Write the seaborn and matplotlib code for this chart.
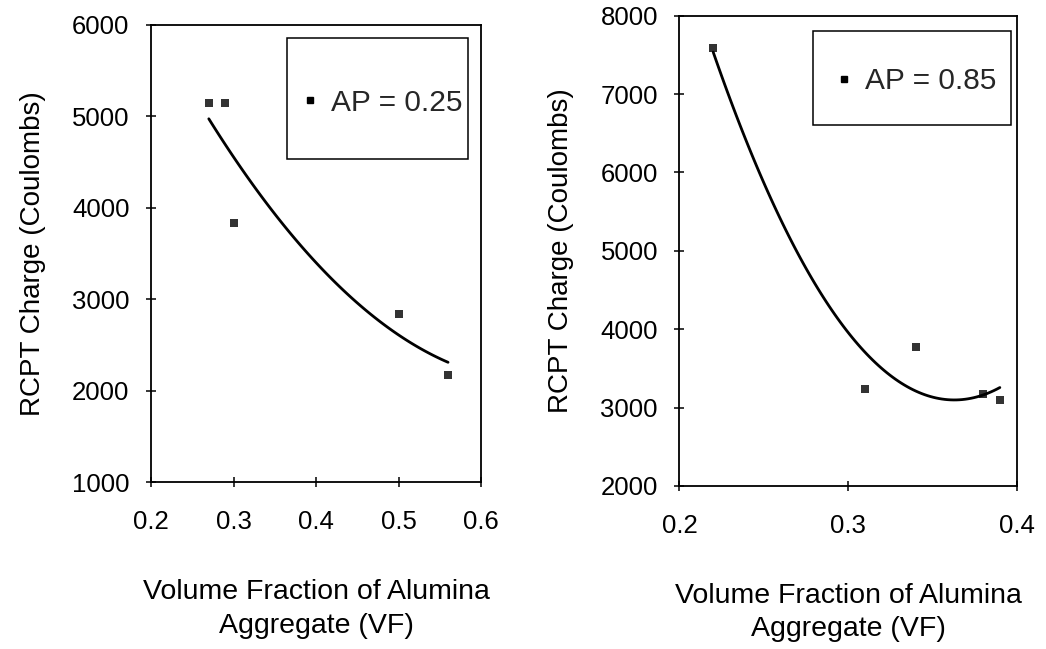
import numpy as np
import pandas as pd
import matplotlib
matplotlib.use("Agg")
import matplotlib.pyplot as plt
from matplotlib.lines import Line2D
from matplotlib.patches import Rectangle
import seaborn as sns

# RCPT charge vs. volume fraction of alumina aggregate
vf_025 = [0.27, 0.29, 0.30, 0.50, 0.56]
charge_025 = [5150, 5150, 3830, 2840, 2170]

vf_085 = [0.22, 0.31, 0.34, 0.38, 0.39]
charge_085 = [7590, 3240, 3770, 3170, 3100]

x_ticks_left = [0.2, 0.3, 0.4, 0.5, 0.6]
y_ticks_left = [1000, 2000, 3000, 4000, 5000, 6000]
x_ticks_right = [0.2, 0.3, 0.4]
y_ticks_right = [2000, 3000, 4000, 5000, 6000, 7000, 8000]

sns.set_theme(style="white")
plt.rcParams["font.family"] = ["Liberation Sans", "DejaVu Sans"]

fig = plt.figure(figsize=(10.46, 6.49), dpi=100)
ax1 = fig.add_axes([0.1444, 0.2573, 0.3155, 0.7042])
ax2 = fig.add_axes([0.6496, 0.2512, 0.3224, 0.7247])

panels = [
    (ax1, vf_025, charge_025, x_ticks_left, y_ticks_left, "AP = 0.25",
     (0.411, 0.706, 0.550, 0.265), (0.700, 0.830)),
    (ax2, vf_085, charge_085, x_ticks_right, y_ticks_right, "AP = 0.85",
     (0.395, 0.768, 0.588, 0.200), (0.700, 0.860)),
]

for ax, xs, ys, xt, yt, label, box, center in panels:
    df = pd.DataFrame({"vf": xs, "charge": ys})
    sns.regplot(data=df, x="vf", y="charge", order=2, ci=None, ax=ax,
                marker="s", color="black", truncate=True,
                scatter_kws={"s": 30, "linewidths": 0},
                line_kws={"lw": 2.0})
    ax.set_xlim(xt[0], xt[-1])
    ax.set_ylim(yt[0], yt[-1])
    ax.set_xticks(xt)
    ax.set_xticklabels([f"{v:.1f}" for v in xt])
    ax.set_yticks(yt)
    ax.set_yticklabels([str(v) for v in yt])
    ax.tick_params(direction="inout", length=7, width=1.1, color="black",
                   labelsize=18.5, labelcolor="black", pad=12,
                   left=True, bottom=True)
    ax.tick_params(axis="x", pad=17)
    for sp in ax.spines.values():
        sp.set_color("black")
        sp.set_linewidth(1.3)
    ax.set_xlabel("Volume Fraction of Alumina\nAggregate (VF)", fontsize=20.5,
                  color="black", labelpad=32, linespacing=1.38)
    ax.set_ylabel("RCPT Charge (Coulombs)", fontsize=20, color="black",
                  labelpad=19)

    ax.add_patch(Rectangle(box[:2], box[2], box[3], transform=ax.transAxes,
                           fill=False, edgecolor="black", lw=1.1, zorder=5))
    handle = Line2D([], [], marker="s", color="black", linestyle="none",
                    markersize=5)
    ax.legend([handle], [label], loc="center", bbox_to_anchor=center,
              frameon=False, fontsize=21.5, handlelength=0.6,
              handletextpad=0.4, borderpad=0, borderaxespad=0)

fig.savefig("out.png", dpi=100)
